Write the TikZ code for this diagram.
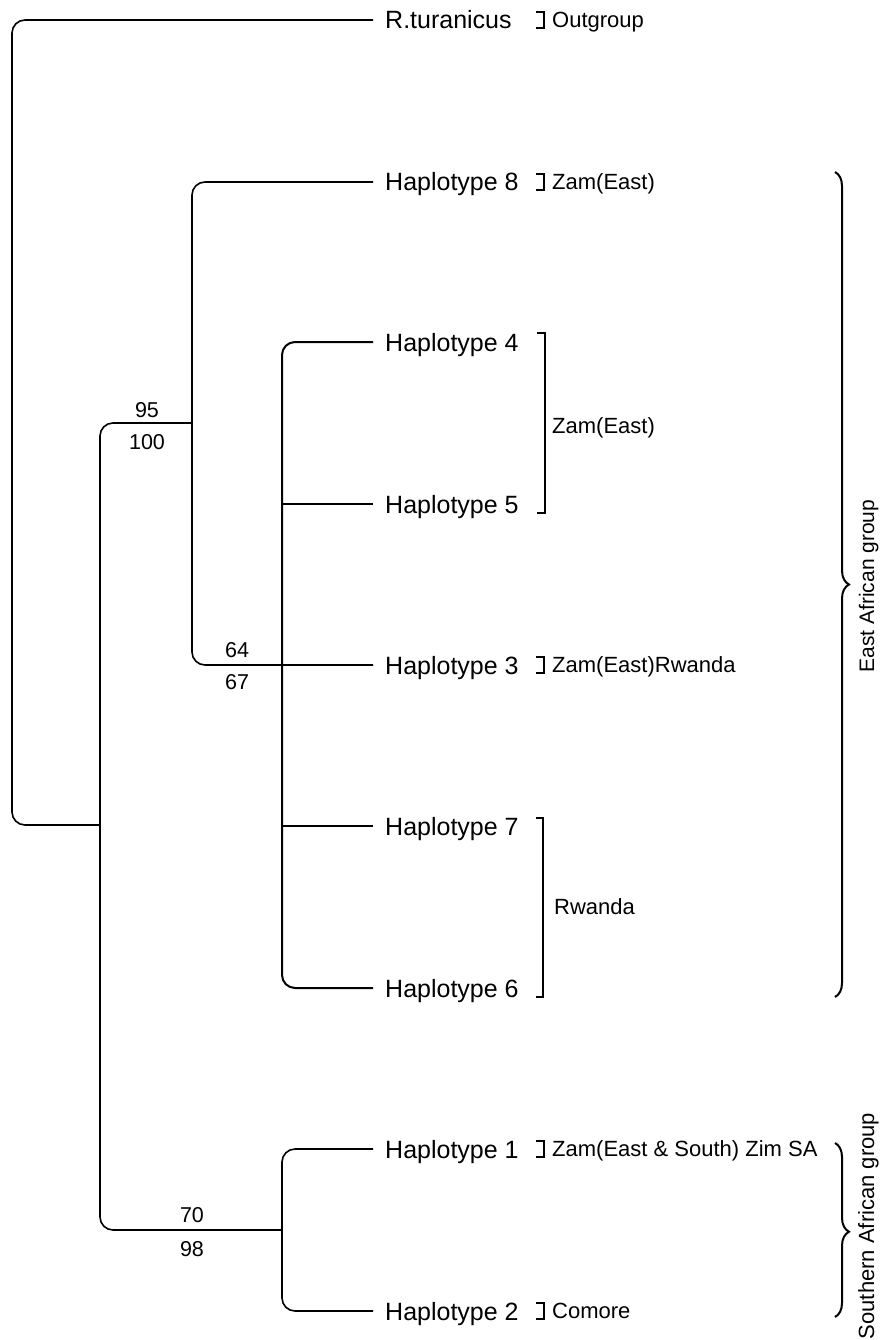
\documentclass[tikz,border=0pt]{standalone}
\usepackage{fontspec}
\setmainfont{Liberation Sans}
\usetikzlibrary{decorations.pathreplacing}
\begin{document}
\begin{tikzpicture}[x=1pt,y=-1pt,
  branch/.style={line width=1.6pt, rounded corners=13pt},
  leaf/.style={anchor=west, inner xsep=12pt, inner ysep=0pt, text height=18pt, text depth=0pt, font=\fontsize{25}{30}\selectfont},
  grp/.style={anchor=west, inner sep=0pt, text height=15.8pt, text depth=0pt, font=\fontsize{22}{26}\selectfont},
  support/.style={inner sep=0pt, text height=15.5pt, text depth=0pt, font=\fontsize{21.5}{26}\selectfont},
  tick/.style={line width=2.8pt},
  bracket/.style={line width=2pt},
  gbrace/.style={line width=2pt, decorate, decoration={brace, amplitude=14pt, aspect=#1}},
  vlabel/.style={rotate=90, anchor=base, inner sep=0pt}
]
\fill[white] (0,0) rectangle (879,1340);
\useasboundingbox (0,0) rectangle (879,1340);

% leaves
\node[leaf] (Rt) at (373,20) {R.turanicus};
\node[leaf] (H8) at (373,182) {Haplotype 8};
\node[leaf] (H4) at (373,342) {Haplotype 4};
\node[leaf] (H5) at (373,504) {Haplotype 5};
\node[leaf] (H3) at (373,665) {Haplotype 3};
\node[leaf] (H7) at (373,826) {Haplotype 7};
\node[leaf] (H6) at (373,988) {Haplotype 6};
\node[leaf] (H1) at (373,1149) {Haplotype 1};
\node[leaf] (H2) at (373,1311) {Haplotype 2};

% internal points
\coordinate (n0) at (12,825);
\coordinate (n1) at (100,825);
\coordinate (n1t) at (100,423);
\coordinate (n1b) at (100,1230);
\coordinate (n2) at (192,423);
\coordinate (n3) at (282,665);
\coordinate (n4) at (282,1230);

% branches
\draw[branch] (n1) -- (n0) |- (Rt.west);
\draw[branch] (n2) -- (n1t) -- (n1b) -- (n4);
\draw[branch] (H8.west) -| (n2) |- (H3.west);
\draw[branch, line width=2pt] (H4.west) -| (n3) |- (H6.west);
\draw[line width=2.6pt] (H4.west) -- ([xshift=-72pt]H4.west);
\draw[branch] (n3 |- H5.west) -- (H5.west);
\draw[branch] (n3 |- H7.west) -- (H7.west);
\draw[branch] (H1.west) -| (n4) |- (H2.west);

% support values
\node[support] (s95) at (147,410) {95};
\node[support] (s100) at (147,442) {100};
\node[support] (s64) at (237,650) {64};
\node[support] (s67) at (237,682) {67};
\node[support] (s70) at (192,1215) {70};
\node[support] (s98) at (192,1249) {98};

% small brackets
\foreach \yy in {20,182,665,1149,1311}{
  \draw[tick] (536,\yy-8) -- (544,\yy-8) -- (544,\yy+8) -- (536,\yy+8);
}
% group brackets
\draw[bracket] (537,333) -- (545,333) -- (545,513) -- (537,513);
\draw[bracket] (536,818) -- (543,818) -- (543,997) -- (536,997);

% group labels
\node[grp] (gOut) at (552,20) {Outgroup};
\node[grp] (g8) at (552,182) {Zam(East)};
\node[grp] (g45) at (552,426) {Zam(East)};
\node[grp] (g3) at (552,665) {Zam(East)Rwanda};
\node[grp] (g76) at (554,907) {Rwanda};
\node[grp] (g1) at (552,1149) {Zam(East \& South) Zim SA};
\node[grp] (g2) at (552,1311) {Comore};

% big braces
\draw[gbrace=0.5] (835,172) -- (835,997);
\draw[gbrace=0.51] (835,1143) -- (835,1317);
\node[vlabel, font=\fontsize{21}{25}\selectfont] (eag) at (874,586) {East African group};
\node[vlabel, font=\fontsize{22}{26}\selectfont] (sag) at (874,1226) {Southern African group};
\end{tikzpicture}
\end{document}
